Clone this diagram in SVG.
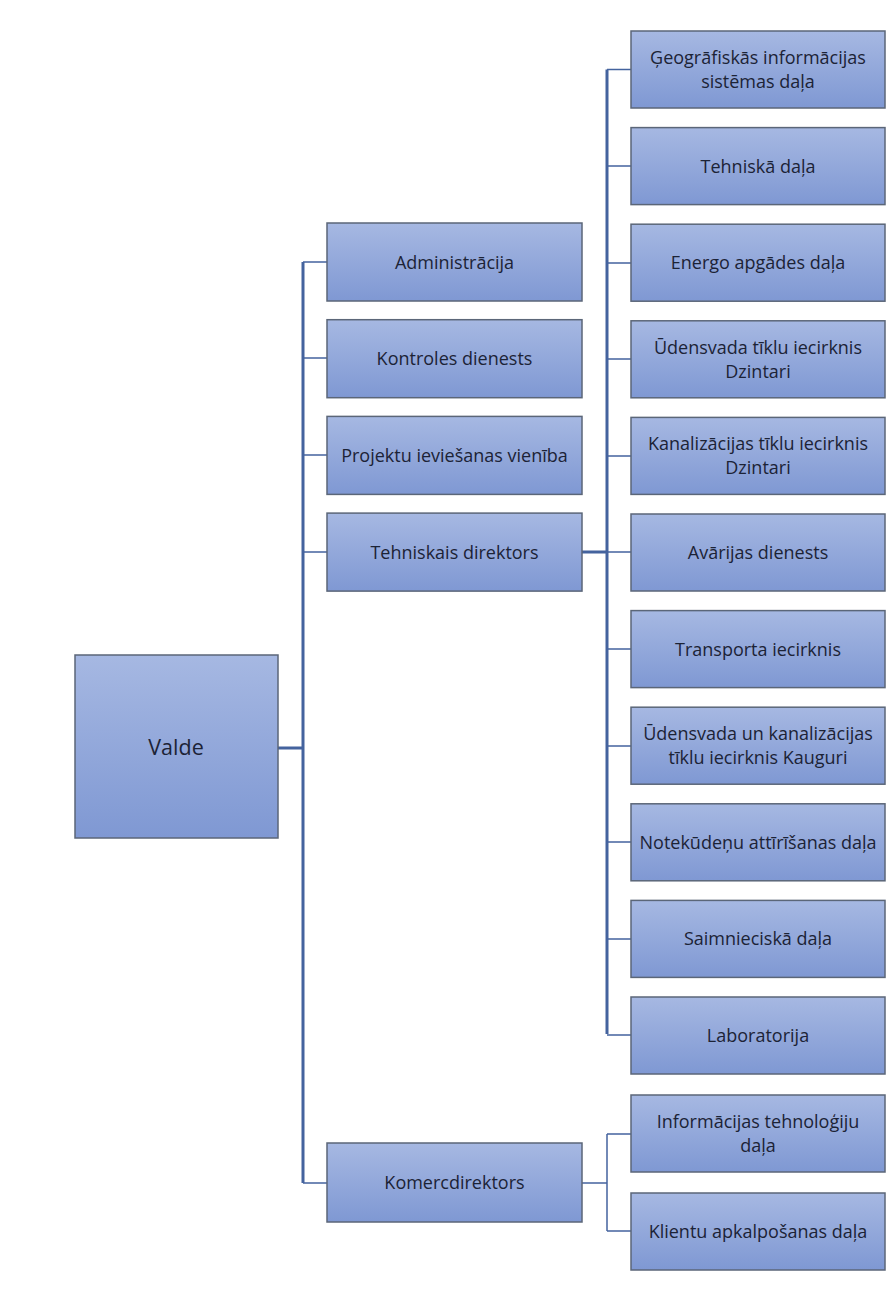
<svg xmlns="http://www.w3.org/2000/svg" width="895" height="1295" viewBox="0 0 895 1295">
<defs>
<linearGradient id="g" x1="0" y1="0" x2="0" y2="1">
<stop offset="0" stop-color="#a6b8e2"/>
<stop offset="1" stop-color="#7f98d3"/>
</linearGradient>
<style>
.box{fill:url(#g);stroke:#5b6678;stroke-width:1.5}
.t{font-family:"Open Sans","Noto Sans",sans-serif;font-size:18px;fill:#1c2336;text-anchor:middle}
.big{font-size:21.5px}
.c{fill:none;stroke:#44639e;stroke-width:1.5}
.tr{fill:none;stroke:#44639e;stroke-width:3}
</style>
</defs>
<rect width="895" height="1295" fill="#ffffff"/>
<g id="connectors">
<path class="tr" d="M303 262V1183M278 748H303M582 552H607M607 69.5V1034"/>
<path class="c" d="M303 262H327M303 358H327M303 455H327M303 552H327M303 1183H327"/>
<path class="c" d="M607 69.5H631M607 166H631M607 263H631M607 359H631M607 456H631M607 552H631M607 649H631M607 746H631M607 842H631M607 939H631M607 1035H631"/>
<path class="c" d="M582 1183H607M607 1134V1231M607 1134H631M607 1231H631"/>
</g>
<g id="valde"><rect class="box" x="75" y="655" width="203" height="183"/><text class="t big" x="176" y="755">Valde</text></g>
<g id="administracija"><rect class="box" x="327" y="223" width="255" height="78"/><text class="t" x="454.5" y="268.5">Administrācija</text></g>
<g id="kontroles"><rect class="box" x="327" y="319.7" width="255" height="78"/><text class="t" x="454.5" y="365.2">Kontroles dienests</text></g>
<g id="projektu"><rect class="box" x="327" y="416.4" width="255" height="78"/><text class="t" x="454.5" y="461.9">Projektu ieviešanas vienība</text></g>
<g id="tehniskais"><rect class="box" x="327" y="513.1" width="255" height="78"/><text class="t" x="454.5" y="558.6">Tehniskais direktors</text></g>
<g id="komerc"><rect class="box" x="327" y="1143" width="255" height="79"/><text class="t" x="454.5" y="1189">Komercdirektors</text></g>
<g id="geo"><rect class="box" x="631" y="31" width="254" height="77"/><text class="t" x="758" y="64">Ģeogrāfiskās informācijas</text><text class="t" x="758" y="88">sistēmas daļa</text></g>
<g id="tehniska"><rect class="box" x="631" y="127.6" width="254" height="77"/><text class="t" x="758" y="172.6">Tehniskā daļa</text></g>
<g id="energo"><rect class="box" x="631" y="224.2" width="254" height="77"/><text class="t" x="758" y="269.2">Energo apgādes daļa</text></g>
<g id="udensvada"><rect class="box" x="631" y="320.8" width="254" height="77"/><text class="t" x="758" y="353.8">Ūdensvada tīklu iecirknis</text><text class="t" x="758" y="377.8">Dzintari</text></g>
<g id="kanalizacijas"><rect class="box" x="631" y="417.4" width="254" height="77"/><text class="t" x="758" y="450.4">Kanalizācijas tīklu iecirknis</text><text class="t" x="758" y="474.4">Dzintari</text></g>
<g id="avarijas"><rect class="box" x="631" y="514" width="254" height="77"/><text class="t" x="758" y="559">Avārijas dienests</text></g>
<g id="transporta"><rect class="box" x="631" y="610.6" width="254" height="77"/><text class="t" x="758" y="655.6">Transporta iecirknis</text></g>
<g id="kauguri"><rect class="box" x="631" y="707.2" width="254" height="77"/><text class="t" x="758" y="740.2">Ūdensvada un kanalizācijas</text><text class="t" x="758" y="764.2">tīklu iecirknis Kauguri</text></g>
<g id="notekudenu"><rect class="box" x="631" y="803.8" width="254" height="77"/><text class="t" x="758" y="848.8">Notekūdeņu attīrīšanas daļa</text></g>
<g id="saimnieciska"><rect class="box" x="631" y="900.4" width="254" height="77"/><text class="t" x="758" y="945.4">Saimnieciskā daļa</text></g>
<g id="laboratorija"><rect class="box" x="631" y="997" width="254" height="77"/><text class="t" x="758" y="1042">Laboratorija</text></g>
<g id="it"><rect class="box" x="631" y="1095" width="254" height="77"/><text class="t" x="758" y="1128">Informācijas tehnoloģiju</text><text class="t" x="758" y="1152">daļa</text></g>
<g id="klienti"><rect class="box" x="631" y="1193" width="254" height="77"/><text class="t" x="758" y="1238">Klientu apkalpošanas daļa</text></g>
</svg>
